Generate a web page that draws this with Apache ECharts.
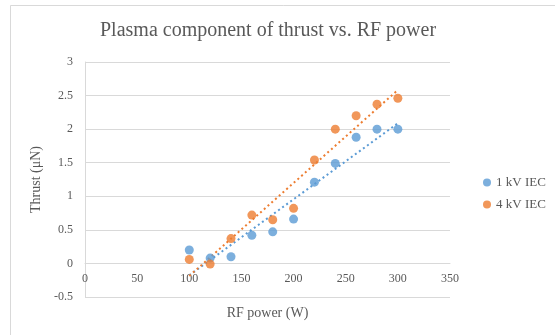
<!DOCTYPE html>
<html>
<head>
<meta charset="utf-8">
<script src="https://cdn.jsdelivr.net/npm/echarts@6/dist/echarts.min.js"></script>
<style>
  html, body { margin: 0; padding: 0; background: #fff; }
  #chart { width: 555px; height: 335px; }
</style>
</head>
<body>
<div id="chart"></div>
<script>
// RF power settings (W)
const rfPower = [100, 120, 140, 160, 180, 200, 220, 240, 260, 280, 300];
// Plasma component of thrust (µN) for each IEC voltage
const thrust1kV = [0.20, 0.08, 0.10, 0.42, 0.47, 0.66, 1.21, 1.49, 1.88, 2.00, 2.00];
const thrust4kV = [0.06, -0.01, 0.37, 0.72, 0.65, 0.82, 1.54, 2.00, 2.20, 2.37, 2.46];
const seriesNames = ['1 kV IEC', '4 kV IEC'];
const seriesColors = ['#5B9BD5', '#ED7D31'];
const yMin = -0.5, yMax = 3;

// Least-squares linear trendline spanning the measured range
function trendline(xs, ys) {
  const n = xs.length;
  const mx = xs.reduce((a, b) => a + b, 0) / n;
  const my = ys.reduce((a, b) => a + b, 0) / n;
  let sxy = 0, sxx = 0;
  for (let i = 0; i < n; i++) {
    sxy += (xs[i] - mx) * (ys[i] - my);
    sxx += (xs[i] - mx) * (xs[i] - mx);
  }
  const slope = sxy / sxx;
  const x0 = Math.min(...xs), x1 = Math.max(...xs);
  return [[x0, my + slope * (x0 - mx)], [x1, my + slope * (x1 - mx)]];
}

const pairs = ys => rfPower.map((x, i) => [x, ys[i]]);
const font = '"Liberation Serif", "Times New Roman", serif';
const textGray = '#595959';
const lineGray = '#d9d9d9';

// plot area
const gridTop = 62, gridBottom = 38, chartH = 335;
const plotH = chartH - gridTop - gridBottom;
// the horizontal axis crosses the vertical one at zero
const xAxisLift = plotH * (0 - yMin) / (yMax - yMin);

const chart = echarts.init(document.getElementById('chart'), null, { renderer: 'canvas' });

const datasets = [thrust1kV, thrust4kV];
const series = [];
datasets.forEach((ys, k) => {
  series.push({
    name: seriesNames[k] + ' trend',
    type: 'line',
    data: trendline(rfPower, ys),
    showSymbol: false,
    silent: true,
    lineStyle: { color: seriesColors[k], width: 2, type: [2, 3] },
    z: 2
  });
});
datasets.forEach((ys, k) => {
  series.push({
    name: seriesNames[k],
    type: 'scatter',
    data: pairs(ys),
    symbol: 'circle',
    symbolSize: 9,
    itemStyle: { color: seriesColors[k] },
    z: 3
  });
});

chart.setOption({
  animation: false,
  backgroundColor: '#fff',
  graphic: [{
    type: 'rect',
    shape: { x: 10.5, y: 5.5, width: 600, height: 400 },
    style: { fill: 'none', stroke: lineGray, lineWidth: 1 },
    silent: true,
    z: -10
  }],
  title: {
    text: 'Plasma component of thrust vs. RF power',
    left: 100,
    top: 21,
    padding: 0,
    textStyle: { fontFamily: font, fontSize: 20, fontWeight: 'normal', color: textGray }
  },
  legend: {
    data: seriesNames,
    orient: 'vertical',
    left: 478,
    top: 171,
    itemWidth: 8,
    itemHeight: 8,
    itemGap: 9,
    icon: 'circle',
    textStyle: { fontFamily: font, fontSize: 13, color: textGray }
  },
  grid: {
    left: 85, right: 105, top: gridTop, bottom: gridBottom,
    containLabel: false,
    outerBoundsMode: 'none'
  },
  xAxis: {
    type: 'value',
    min: 0, max: 350, interval: 50,
    position: 'bottom',
    offset: -xAxisLift,
    name: 'RF power (W)',
    nameLocation: 'middle',
    nameGap: 43,
    nameTextStyle: { fontFamily: font, fontSize: 14, color: textGray },
    axisLine: { onZero: false, lineStyle: { color: lineGray } },
    axisTick: { show: false },
    splitLine: { show: false },
    axisLabel: { fontFamily: font, fontSize: 12, color: textGray, margin: 9 }
  },
  yAxis: {
    type: 'value',
    min: yMin, max: yMax, interval: 0.5,
    name: 'Thrust (\u03bcN)',
    nameLocation: 'middle',
    nameGap: 34,
    nameTextStyle: { fontFamily: font, fontSize: 14, color: textGray },
    axisLine: { show: true, onZero: false, lineStyle: { color: lineGray } },
    axisTick: { show: false },
    splitLine: { show: true, lineStyle: { color: lineGray, width: 1 } },
    axisLabel: { fontFamily: font, fontSize: 12, color: textGray, margin: 12 }
  },
  series: series
});
</script>
</body>
</html>
